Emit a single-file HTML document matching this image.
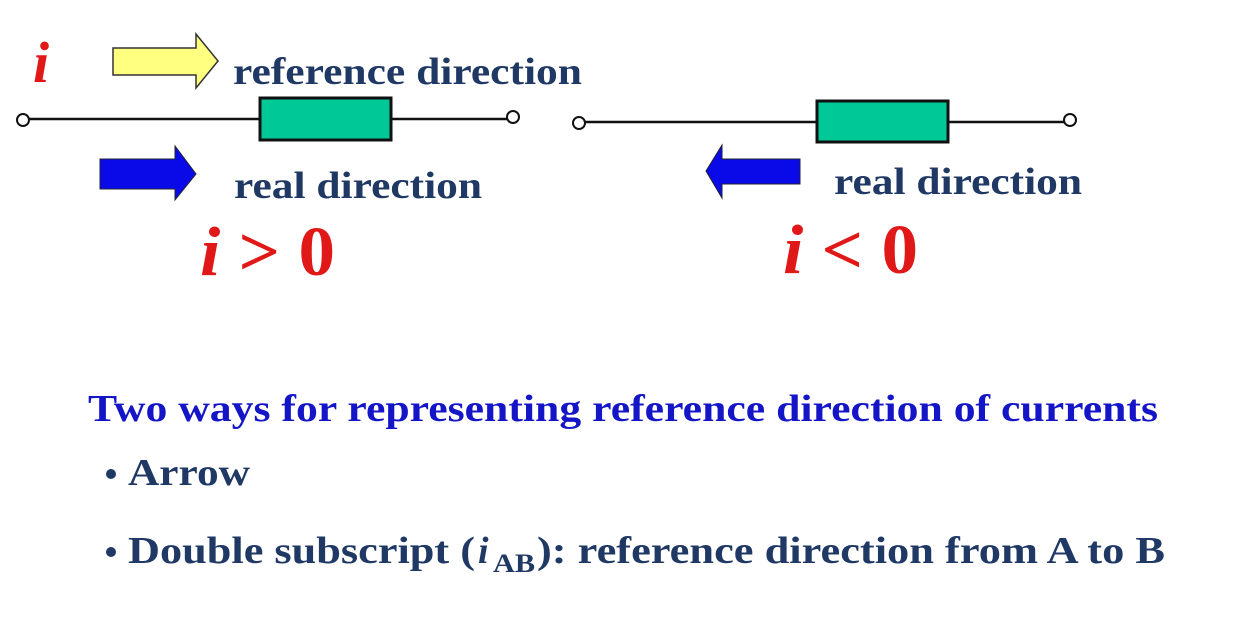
<!DOCTYPE html>
<html><head><meta charset="utf-8"><style>
html,body{margin:0;padding:0;background:#fff;}
svg{display:block;}
</style></head><body>
<svg width="1248" height="627" viewBox="0 0 1248 627" font-family="Liberation Serif, serif" font-weight="700">
<rect width="1248" height="627" fill="#fff"/>
<text x="33" y="82" font-size="58" font-weight="700" fill="#e01818" font-style="italic">i</text>
<polygon points="113,48 196,48 196,34 218,61 196,88 196,75 113,75" fill="#ffff80" stroke="#333" stroke-width="1.5"/>
<text x="233" y="84" font-size="38" font-weight="700" fill="#1f3864" textLength="349" lengthAdjust="spacingAndGlyphs">reference direction</text>
<line x1="29" y1="119" x2="507" y2="119" stroke="#111" stroke-width="2.5"/>
<circle cx="23" cy="120" r="6" fill="#fff" stroke="#111" stroke-width="2"/>
<circle cx="513" cy="117" r="6" fill="#fff" stroke="#111" stroke-width="2"/>
<rect x="260" y="98" width="131" height="42" fill="#00c896" stroke="#111" stroke-width="3"/>
<polygon points="100,159 175,159 175,146 196,174 175,200 175,189 100,189" fill="#0a0ae8" stroke="#223" stroke-width="1"/>
<text x="234" y="198" font-size="38" font-weight="700" fill="#1f3864" textLength="248" lengthAdjust="spacingAndGlyphs">real direction</text>
<text x="200" y="275" font-size="70" font-weight="700" fill="#e01818" textLength="135" lengthAdjust="spacingAndGlyphs"><tspan font-style="italic">i</tspan> &gt; 0</text>
<line x1="585" y1="122" x2="1064" y2="122" stroke="#111" stroke-width="2.5"/>
<circle cx="579" cy="123" r="6" fill="#fff" stroke="#111" stroke-width="2"/>
<circle cx="1070" cy="120" r="6" fill="#fff" stroke="#111" stroke-width="2"/>
<rect x="817" y="101" width="131" height="41" fill="#00c896" stroke="#111" stroke-width="3"/>
<polygon points="800,159 722,159 722,145 706,171 722,198 722,184 800,184" fill="#0a0ae8" stroke="#223" stroke-width="1"/>
<text x="834" y="194" font-size="38" font-weight="700" fill="#1f3864" textLength="248" lengthAdjust="spacingAndGlyphs">real direction</text>
<text x="783" y="273" font-size="70" font-weight="700" fill="#e01818" textLength="135" lengthAdjust="spacingAndGlyphs"><tspan font-style="italic">i</tspan> &lt; 0</text>
<text x="88" y="421" font-size="38" font-weight="700" fill="#1515c8" textLength="1070" lengthAdjust="spacingAndGlyphs">Two ways for representing reference direction of currents</text>
<circle cx="111" cy="474" r="5" fill="#1f3864"/>
<text x="128" y="485" font-size="38" font-weight="700" fill="#1f3864" textLength="122" lengthAdjust="spacingAndGlyphs">Arrow</text>
<circle cx="111" cy="552" r="5" fill="#1f3864"/>
<text x="128" y="563" font-size="38" font-weight="700" fill="#1f3864" textLength="347" lengthAdjust="spacingAndGlyphs">Double subscript (</text>
<text x="478" y="563" font-size="38" font-weight="700" fill="#1f3864" font-style="italic">i</text>
<text x="493" y="572" font-size="26" font-weight="700" fill="#1f3864" textLength="42" lengthAdjust="spacingAndGlyphs">AB</text>
<text x="537" y="563" font-size="38" font-weight="700" fill="#1f3864" textLength="628" lengthAdjust="spacingAndGlyphs">): reference direction from  A to B</text>
</svg>
</body></html>
